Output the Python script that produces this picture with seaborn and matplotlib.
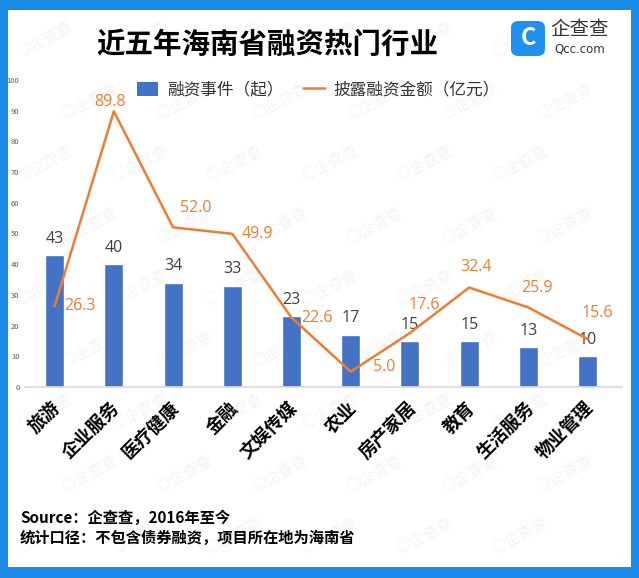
import matplotlib
matplotlib.use("Agg")
import matplotlib.pyplot as plt
import matplotlib.transforms as mtransforms
import seaborn as sns
import numpy as np
from matplotlib.patches import Patch, Rectangle, FancyBboxPatch
from matplotlib.lines import Line2D

industries = ["旅游", "企业服务", "医疗健康", "金融", "文娱传媒",
              "农业", "房产家居", "教育", "生活服务", "物业管理"]
events = [43, 40, 34, 33, 23, 17, 15, 15, 13, 10]
amounts = [26.3, 89.8, 52.0, 49.9, 22.6, 5.0, 17.6, 32.4, 25.9, 15.6]
yticks = [0, 10, 20, 30, 40, 50, 60, 70, 80, 90, 100]

BAR = "#4472C4"
LINE = "#ED7D31"
FRAME = "#1A8BE8"

sns.set_style("white")
plt.rcParams['font.family'] = ['Noto Sans CJK SC', 'DejaVu Sans']

W, H = 639, 578
fig = plt.figure(figsize=(W / 100, H / 100), dpi=100)
fig.patch.set_facecolor(FRAME)
# white card inside the blue frame
fig.patches.append(Rectangle((8 / W, 11 / H), (631 - 8) / W, (568 - 11) / H,
                             transform=fig.transFigure, facecolor="white",
                             edgecolor="none", zorder=0))

# faint watermark tiles
for row, yy in enumerate(np.arange(40, 560, 62)):
    for xx in np.arange(45 + (row % 2) * 45, 600, 95):
        fig.text(xx / W, 1 - yy / H, "◎企查查", fontsize=11, color="#000000",
                 alpha=0.05, rotation=28, ha="center", va="center", zorder=1)

ax = fig.add_axes([25 / W, 1 - 387 / H, (622 - 25) / W, (387 - 80) / H])
ax.set_facecolor("none")
ax.set_zorder(2)

sns.barplot(x=industries, y=events, color=BAR, width=0.32, saturation=1,
            ax=ax, zorder=2)
ax.bar_label(ax.containers[0], padding=6, fontsize=11.5, color="#404040",
             family=["Open Sans", "DejaVu Sans"])

pos = np.arange(len(industries))
sns.lineplot(x=pos, y=amounts, color=LINE, linewidth=1.8, ax=ax, zorder=3)

# label offsets (points) and alignment for the amount labels
offsets = [(7, 0), (-3, 7), (5, 14), (6.5, 0), (7, 0),
           (16, 3), (10, 20), (5, 14.5), (6, 14), (7, 19)]
aligns = ["left", "center", "left", "left", "left",
          "left", "center", "center", "center", "center"]
for i, (v, off, ha) in enumerate(zip(amounts, offsets, aligns)):
    ax.annotate(f"{v:.1f}", (i, v), xytext=off, textcoords="offset points",
                ha=ha, va="center", fontsize=11.5, color=LINE,
                family=["Open Sans", "DejaVu Sans"])

ax.set_ylim(0, 100)
ax.set_xlim(-0.5, 9.58)
ax.set_yticks(yticks)
ax.tick_params(axis="y", labelsize=5.5, labelcolor="#595959", length=0, pad=4)
ax.tick_params(axis="x", length=0, pad=8)
ax.set_xticks(pos)
ax.set_xticklabels(industries, rotation=45, ha="right", rotation_mode="anchor",
                   fontsize=13, fontweight="bold", color="black")
shift = mtransforms.ScaledTranslation(-4 / 100, 0, fig.dpi_scale_trans)
for lbl in ax.get_xticklabels():
    lbl.set_transform(lbl.get_transform() + shift)
for s in ["top", "right", "left"]:
    ax.spines[s].set_visible(False)
ax.spines["bottom"].set_color("#D9D9D9")
ax.spines["bottom"].set_linewidth(1.2)
ax.set_xlabel("")
ax.set_ylabel("")

handles = [Patch(facecolor=BAR, edgecolor="none"),
           Line2D([0], [0], color=LINE, linewidth=1.8)]
fig.legend(handles, ["融资事件（起）", "披露融资金额（亿元）"], loc="center",
           bbox_to_anchor=(318 / W, 1 - 90 / H), ncol=2, frameon=False,
           fontsize=12, handlelength=1.3, handleheight=0.9, columnspacing=1.2,
           handletextpad=0.5, labelcolor="#333333")

fig.text(267 / W, 1 - 45 / H, "近五年海南省融资热门行业", fontsize=20.5,
         fontweight="bold", ha="center", va="center", color="black")

# logo
fig.patches.append(FancyBboxPatch((511 / W, 1 - 56 / H), 34 / W, 35 / H,
                                  boxstyle="round,pad=0,rounding_size=0.012",
                                  transform=fig.transFigure, facecolor="#1E90F0",
                                  edgecolor="none", zorder=3))
fig.text(528 / W, 1 - 38 / H, "C", fontsize=17, fontweight="bold",
         color="white", ha="center", va="center", zorder=4)
fig.text(580 / W, 1 - 30 / H, "企查查", fontsize=14, color="#333333",
         ha="center", va="center")
fig.text(580 / W, 1 - 49 / H, "Qcc.com", fontsize=8.5, color="#333333",
         ha="center", va="center", family=["DejaVu Sans"])

fig.text(20 / W, 1 - 518 / H, "Source：企查查，2016年至今", fontsize=11,
         fontweight="bold", ha="left", va="center", color="black")
fig.text(20 / W, 1 - 538 / H, "统计口径：不包含债券融资，项目所在地为海南省",
         fontsize=11, fontweight="bold", ha="left", va="center", color="black")

fig.savefig("out.png", dpi=100, facecolor=fig.get_facecolor())
